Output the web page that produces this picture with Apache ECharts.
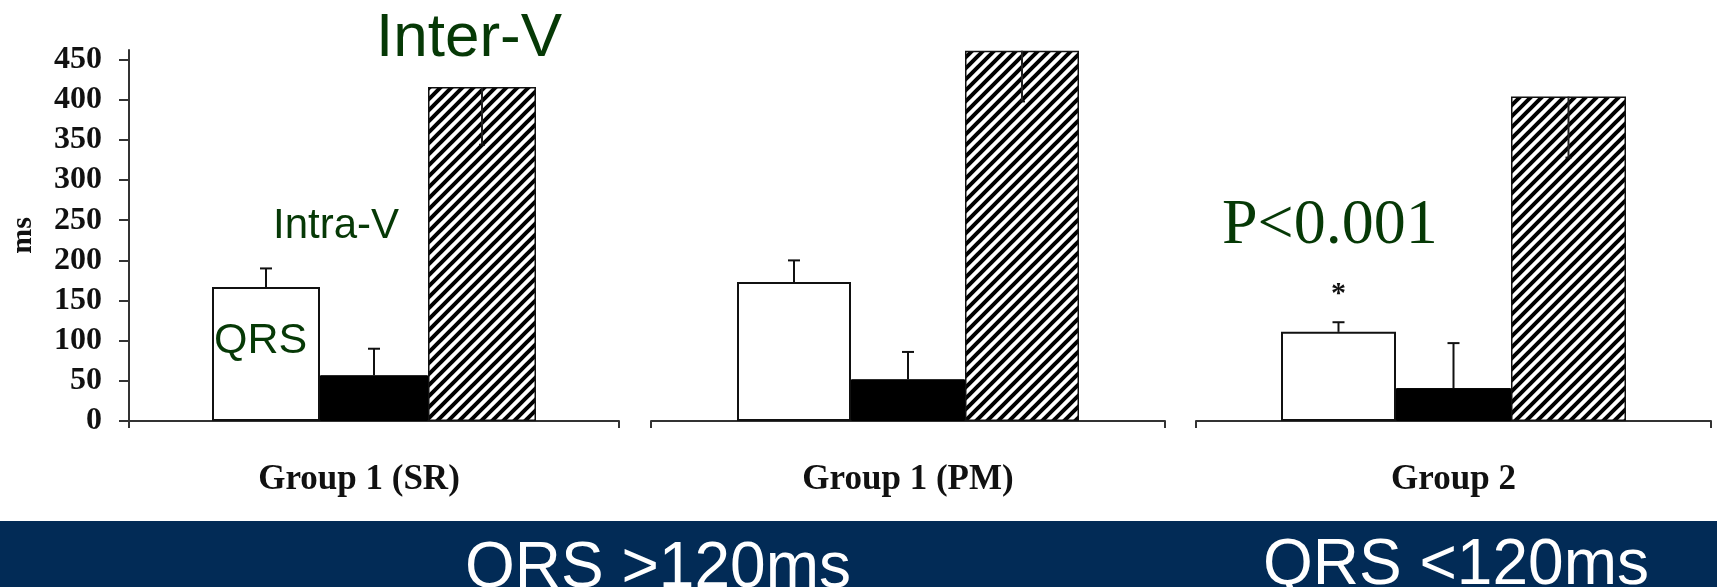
<!DOCTYPE html>
<html>
<head>
<meta charset="utf-8">
<script src="https://cdn.jsdelivr.net/npm/echarts@6/dist/echarts.min.js"></script>
<style>html,body{margin:0;padding:0;background:#fff}#c{width:1717px;height:587px}</style>
</head>
<body>
<div id="c"></div>
<script>
// ---- data ----
const categories = ['Group 1 (SR)', 'Group 1 (PM)', 'Group 2'];
const qrs = [167, 173, 111];
const qrsSD = [23, 27, 12];
const intraV = [57, 52, 41];
const intraSD = [33, 34, 56];
const interV = [416, 461, 404];
const interSD = [72, 63, 76];
const significance = ['', '', '*'];
const yTicks = [0, 50, 100, 150, 200, 250, 300, 350, 400, 450];
const bandLabels = ['QRS >120ms', 'QRS <120ms'];

// ---- layout / style ----
const grids = [
  {left: 129, width: 490},
  {left: 651, width: 514},
  {left: 1196, width: 515}
];
const barWidths = [108, 114, 115];
const green = '#063906';
const serif = '"Liberation Serif", "Times New Roman", serif';
const sans = '"Liberation Sans", Arial, sans-serif';

function hatch() {
  const s = 11;
  const c = document.createElement('canvas');
  c.width = s; c.height = s;
  const g = c.getContext('2d');
  g.fillStyle = '#fff'; g.fillRect(0, 0, s, s);
  g.strokeStyle = '#000'; g.lineWidth = 4;
  g.beginPath();
  g.moveTo(-2, s + 2); g.lineTo(s + 2, -2);
  g.moveTo(-2, 2); g.lineTo(2, -2);
  g.moveTo(s - 2, s + 2); g.lineTo(s + 2, s - 2);
  g.stroke();
  return c;
}
const hatchPattern = {image: hatch(), repeat: 'repeat'};

const chart = echarts.init(document.getElementById('c'), null, {renderer: 'canvas'});

const option = {
  animation: false,
  grid: grids.map(g => ({left: g.left, width: g.width, top: 50, bottom: 166, containLabel: false})),
  xAxis: categories.map((cat, i) => ({
    type: 'category', gridIndex: i, data: [cat], boundaryGap: true,
    axisLine: {show: true, lineStyle: {color: '#333', width: 2}},
    axisTick: {show: true, length: 7, lineStyle: {color: '#333', width: 2}},
    axisLabel: {
      margin: 41, color: '#111', fontFamily: serif, fontWeight: 'bold', fontSize: 35,
      padding: i === 0 ? [0, 30, 0, 0] : 0
    }
  })),
  yAxis: categories.map((cat, i) => ({
    type: 'value', gridIndex: i, min: 0, max: 462, interval: 50,
    show: i === 0,
    name: i === 0 ? 'ms' : '', nameLocation: 'middle', nameRotate: 90, nameGap: 91,
    nameTextStyle: {fontFamily: serif, fontWeight: 'bold', fontSize: 30, color: '#111'},
    splitLine: {show: false},
    axisLine: {show: i === 0, lineStyle: {color: '#333', width: 2}},
    axisTick: {show: i === 0, length: 10, customValues: yTicks, lineStyle: {color: '#333', width: 2}},
    axisLabel: {show: i === 0, customValues: yTicks, margin: 27, color: '#111',
      fontFamily: serif, fontWeight: 'bold', fontSize: 32}
  })),
  series: [],
  graphic: [
    {type: 'rect', left: 0, top: 521, shape: {width: 1717, height: 66}, style: {fill: '#022b56'}, z: 10},
    {type: 'text', x: 465, y: 569, z: 11, style: {text: bandLabels[0], fill: '#fff', font: '64px ' + sans, align: 'left', verticalAlign: 'middle'}},
    {type: 'text', x: 1263, y: 566, z: 11, style: {text: bandLabels[1], fill: '#fff', font: '64px ' + sans, align: 'left', verticalAlign: 'middle'}},
    {type: 'text', x: 376, y: 39, z: 11, style: {text: 'Inter-V', fill: green, font: '62px ' + sans, align: 'left', verticalAlign: 'middle'}},
    {type: 'text', x: 273, y: 226, z: 11, style: {text: 'Intra-V', fill: green, font: '42px ' + sans, align: 'left', verticalAlign: 'middle'}},
    {type: 'text', x: 214, y: 341, z: 11, style: {text: 'QRS', fill: green, font: '43px ' + sans, align: 'left', verticalAlign: 'middle'}},
    {type: 'text', x: 1222, y: 226, z: 11, style: {text: 'P<0.001', fill: green, font: '64px ' + serif, align: 'left', verticalAlign: 'middle'}}
  ]
};

categories.forEach((cat, i) => {
  const bw = barWidths[i];
  option.series.push(
    {type: 'bar', name: 'QRS', xAxisIndex: i, yAxisIndex: i, data: [qrs[i]], barWidth: bw, barGap: '0%',
      itemStyle: {color: '#fff', borderColor: '#111', borderWidth: 2}},
    {type: 'bar', name: 'Intra-V', xAxisIndex: i, yAxisIndex: i, data: [intraV[i]], barWidth: bw, barGap: '0%',
      itemStyle: {color: '#000', borderColor: '#000', borderWidth: 1}},
    {type: 'bar', name: 'Inter-V', xAxisIndex: i, yAxisIndex: i, data: [interV[i]], barWidth: bw, barGap: '0%', clip: false,
      itemStyle: {color: hatchPattern, borderColor: '#111', borderWidth: 1.5}},
    {
      type: 'custom', xAxisIndex: i, yAxisIndex: i, z: 5, clip: false,
      encode: {x: 0, y: 1},
      data: [
        [0, qrs[i], qrs[i] + qrsSD[i], -1],
        [0, intraV[i], intraV[i] + intraSD[i], 0],
        [0, interV[i], interV[i] - interSD[i], 1]
      ],
      renderItem: function (params, api) {
        const c = api.coord([api.value(0), api.value(1)]);
        const x = c[0] + api.value(3) * bw;
        const top = c[1];
        const end = api.coord([api.value(0), api.value(2)])[1];
        const down = end > top;
        const half = down ? 3 : 6;
        const children = [
          {type: 'line', shape: {x1: x, y1: top, x2: x, y2: end}, style: {stroke: down ? '#222' : '#111', lineWidth: 2}},
          {type: 'line', shape: {x1: x - half, y1: end, x2: x + half, y2: end}, style: {stroke: '#111', lineWidth: 2}}
        ];
        if (params.dataIndex === 0 && significance[i]) {
          children.push({type: 'text', style: {text: significance[i], x: x, y: end - 28, align: 'center', verticalAlign: 'middle',
            font: 'bold 30px ' + serif, fill: '#111'}});
        }
        return {type: 'group', children: children};
      }
    }
  );
});

chart.setOption(option);
</script>
</body>
</html>
